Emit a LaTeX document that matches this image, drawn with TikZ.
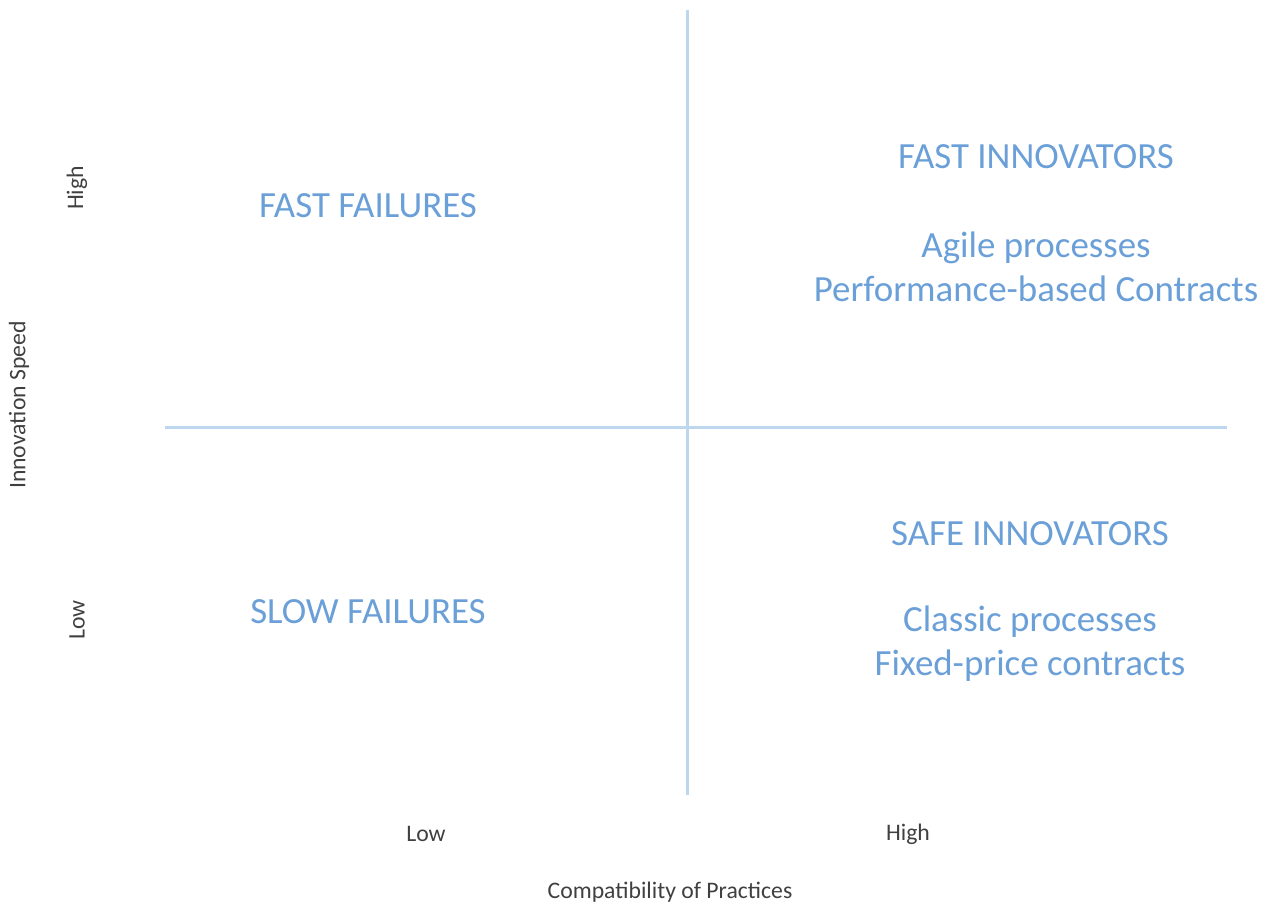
\documentclass[tikz,border=0pt]{standalone}
\usepackage{fontspec}
\setmainfont{Carlito}
\usetikzlibrary{positioning}
\definecolor{quadblue}{HTML}{6A9FD8}
\definecolor{axisblue}{HTML}{BDD7EE}
\definecolor{ticktext}{HTML}{404040}

\begin{document}
\begin{tikzpicture}[x=0.02cm, y=-0.02cm,
  quad/.style={text=quadblue, font=\fontsize{21}{25}\selectfont, align=center, inner sep=0pt},
  tick/.style={text=ticktext, font=\fontsize{13.5}{16}\selectfont, inner sep=0pt},
  axis/.style={draw=axisblue, line width=0.06cm}]
\useasboundingbox (0,0) rectangle (1269,905);

\coordinate (top) at (687,10);
\coordinate (bottom) at (687,795);
\coordinate (left) at (165,428);
\coordinate (right) at (1227,428);
\draw[axis] (top) -- (bottom);
\draw[axis] (left) -- (right);

\node[quad] (fastfail) at (368,206) {FAST FAILURES};
\node[quad] (slowfail) at (368,612) {SLOW FAILURES};
\node[quad] (fastinno) at (1036,157) {FAST INNOVATORS};
\node[quad] (fastlist) at (1036,267) {Agile processes\\Performance-based Contracts};
\node[quad] (safeinno) at (1030,534) {SAFE INNOVATORS};
\node[quad] (safelist) at (1030,644) {Classic processes\\Fixed-price contracts};

\node[tick, rotate=90] (yhigh) at (77,188) {High};
\node[tick, rotate=90] (ylow) at (77,620) {Low};
\node[tick, rotate=90] (ylabel) at (19,405) {Innovation Speed};
\node[tick] (xlow) at (426,834) {Low};
\node[tick] (xhigh) at (908,834) {High};
\node[tick] (xlabel) at (670,892) {Compatibility of Practices};
\end{tikzpicture}
\end{document}
